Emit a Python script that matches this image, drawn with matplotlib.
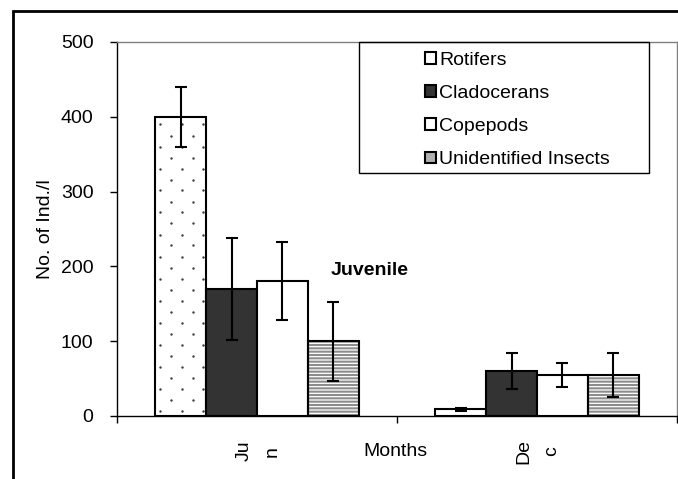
import numpy as np
import matplotlib
matplotlib.use("Agg")
import matplotlib.pyplot as plt
from matplotlib.patches import Rectangle, Patch

plt.rcParams['font.family'] = ['Liberation Sans', 'DejaVu Sans']
plt.rcParams['hatch.linewidth'] = 1.5

# ---- data ----
months = ["Ju\nn", "De\nc"]
groups = ["Rotifers", "Cladocerans", "Copepods", "Unidentified Insects"]
rotifers = [400, 9]
rotifers_err = [40, 2]
cladocerans = [170, 60]
cladocerans_err = [68, 24]
copepods = [180, 55]
copepods_err = [52, 16]
insects = [100, 55]
insects_err = [53, 29]
yticks = [0, 100, 200, 300, 400, 500]

W, H = 678, 479
fig = plt.figure(figsize=(W / 100, H / 100), dpi=100)
ax = fig.add_axes([117 / W, (H - 416) / H, (677 - 117) / W, (416 - 42) / H])
ax.set_xlim(0, 2)
ax.set_ylim(0, 500)

bar_w = 0.182
centers = np.arange(len(months)) + 0.5
offsets = (np.arange(4) - 1.5) * bar_w
FS = 14

err_kw = dict(ecolor='black', elinewidth=1.5, capsize=4.3, capthick=1.5, zorder=3)

# Rotifers: white bar with a staggered grey-dot texture
rot_bars = ax.bar(centers + offsets[0], rotifers, bar_w, yerr=rotifers_err,
                  color='white', edgecolor='black', linewidth=1.5,
                  error_kw=err_kw, zorder=2)
ax.bar(centers + offsets[1], cladocerans, bar_w, yerr=cladocerans_err,
       color='#333333', edgecolor='black', linewidth=1.5,
       error_kw=err_kw, zorder=2)
ax.bar(centers + offsets[2], copepods, bar_w, yerr=copepods_err,
       color='white', edgecolor='black', linewidth=1.5,
       error_kw=err_kw, zorder=2)
# Insects: grey horizontal stripes (hatch coloured by a grey edge), then a black outline
ax.bar(centers + offsets[3], insects, bar_w, color='white', edgecolor='#8c8c8c',
       hatch='-----', linewidth=0, zorder=1.5)
ax.bar(centers + offsets[3], insects, bar_w, yerr=insects_err,
       color='none', edgecolor='black', linewidth=1.5,
       error_kw=err_kw, zorder=2)

# dot texture inside rotifer bars, laid out in pixel space
fig.canvas.draw()
to_disp = ax.transData
to_data = ax.transData.inverted()
for rect in rot_bars:
    x0, y0 = rect.get_x(), rect.get_y()
    x1, y1 = x0 + rect.get_width(), y0 + rect.get_height()
    (px0, py0), (px1, py1) = to_disp.transform([(x0, y0), (x1, y1)])
    pts = []
    row = 0
    yy = py1 - 7.7
    while yy > py0 + 1:
        start = 5.0 if row % 2 == 0 else 16.0
        xx = px0 + start
        while xx < px1 - 1:
            pts.append((xx, yy))
            xx += 21.7
        yy -= 11.0
        row += 1
    if pts:
        d = to_data.transform(np.array(pts))
        sc = ax.scatter(d[:, 0], d[:, 1], s=3.0, color='#3a3a3a', linewidths=0, zorder=2.2)
        sc.set_clip_path(rect)

# axes styling
ax.set_yticks(yticks)
ax.set_yticklabels([str(v) for v in yticks], fontsize=FS)
ax.tick_params(axis='y', direction='out', length=5, width=1, pad=12, color='black')
ax.set_xticks([0, 1, 2])
ax.set_xticklabels([])
ax.tick_params(axis='x', direction='out', length=5, width=1, color='black')
for s in ('top', 'right'):
    ax.spines[s].set_color('#808080')
    ax.spines[s].set_linewidth(1)
for s in ('left', 'bottom'):
    ax.spines[s].set_color('black')
    ax.spines[s].set_linewidth(1)

# category labels, stacked and rotated
for c, lab in zip(centers, months):
    ax.text(c + 0.003, -0.094, lab, transform=ax.get_xaxis_transform(), rotation=90,
            ha='center', va='center', fontsize=FS, linespacing=1.85,
            multialignment='center')
ax.text(0.497, -0.094, "Months", transform=ax.transAxes, ha='center', va='center', fontsize=FS)
ax.set_ylabel("No. of Ind./l", fontsize=FS, labelpad=5)

ax.text(0.764, 195, "Juvenile", fontsize=FS, fontweight='bold', ha='left', va='center')

# legend
handles = [Patch(facecolor='white', edgecolor='black', linewidth=1.5),
           Patch(facecolor='#333333', edgecolor='black', linewidth=1.5),
           Patch(facecolor='white', edgecolor='black', linewidth=1.5),
           Patch(facecolor='#b0b0b0', edgecolor='black', linewidth=1.5)]
leg = ax.legend(handles, groups, loc='upper left',
                bbox_to_anchor=((421 - 117) / 560, 1.0 - 6 / 374),
                frameon=False, fontsize=FS, handlelength=0.55, handleheight=0.55,
                handletextpad=0.2, labelspacing=0.83, borderpad=0.2, borderaxespad=0)
ax.add_patch(Rectangle(((359 - 117) / 560, (416 - 173) / 374), (649 - 359) / 560,
                       (173 - 42) / 374, transform=ax.transAxes, fill=False,
                       edgecolor='black', linewidth=1, zorder=5, clip_on=False))

# outer frame
fig.add_artist(Rectangle((13 / W, -0.05), 1.2, (H - 11) / H + 0.05, transform=fig.transFigure,
                         fill=False, edgecolor='black', linewidth=2))

fig.savefig("out.png", dpi=100)
